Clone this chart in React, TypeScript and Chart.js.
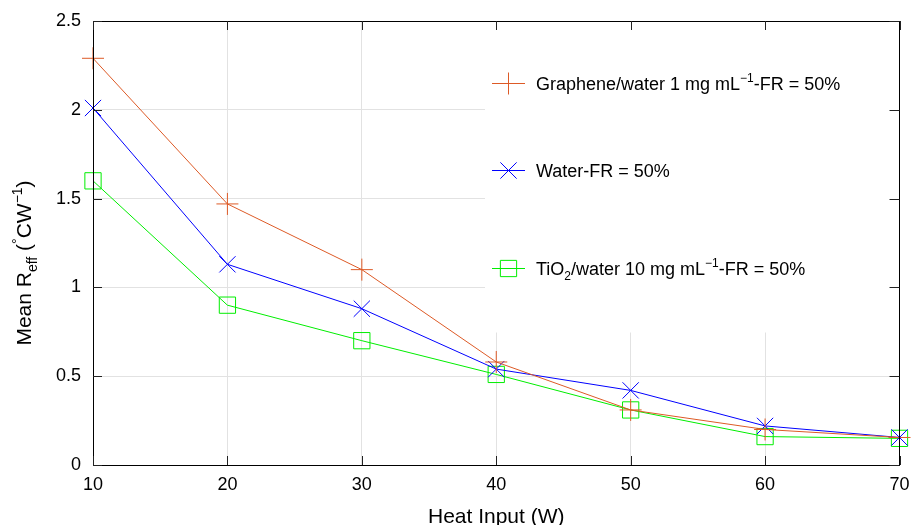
import React, { useEffect, useRef } from 'react';
import { Chart, registerables } from 'chart.js';

Chart.register(...registerables);

// ---- data ----
const heatInput = [10, 20, 30, 40, 50, 60, 70];
const grapheneR = [2.29, 1.47, 1.1, 0.58, 0.31, 0.2, 0.155];
const waterR = [2.01, 1.13, 0.88, 0.54, 0.42, 0.22, 0.155];
const tio2R = [1.6, 0.9, 0.7, 0.51, 0.31, 0.16, 0.15];
const xTickValues = [10, 20, 30, 40, 50, 60, 70];
const yTickValues = [0, 0.5, 1, 1.5, 2, 2.5];
const yTickLabels = ['0', '0.5', '1', '1.5', '2', '2.5'];

// rich text segments: [text, mode] (0 normal, 1 superscript, -1 subscript)
const grapheneLabel: [string, number][] = [['Graphene/water 1 mg mL', 0], ['\u22121', 1], ['-FR = 50%', 0]];
const waterLabel: [string, number][] = [['Water-FR = 50%', 0]];
const tio2Label: [string, number][] = [['TiO', 0], ['2', -1], ['/water 10 mg mL', 0], ['\u22121', 1], ['-FR = 50%', 0]];
const yTitle: [string, number][] = [['Mean R', 0], ['eff', -1], [' (', 0], ['\u00b0', 1], ['CW', 0], ['\u22121', 1], [')', 0]];
const xTitle = 'Heat Input (W)';

const COLORS = { graphene: '#dd5a26', water: '#0000ff', tio2: '#00ee00' };
const FONT = '"Liberation Sans", Arial, Helvetica, sans-serif';

function segFont(size: number, mode: number) {
  return `${mode === 0 ? size : Math.round(size * 0.68)}px ${FONT}`;
}

function richWidth(ctx: CanvasRenderingContext2D, segs: [string, number][], size: number) {
  let w = 0;
  for (const [t, m] of segs) {
    ctx.font = segFont(size, m);
    w += ctx.measureText(t).width;
  }
  return w;
}

function drawRich(ctx: CanvasRenderingContext2D, segs: [string, number][], x: number, y: number, size: number, center: boolean) {
  let cx = center ? x - richWidth(ctx, segs, size) / 2 : x;
  ctx.textBaseline = 'alphabetic';
  ctx.textAlign = 'left';
  for (const [t, m] of segs) {
    ctx.font = segFont(size, m);
    const dy = m === 1 ? -size * 0.42 : m === -1 ? size * 0.28 : 0;
    ctx.fillText(t, cx, y + dy);
    cx += ctx.measureText(t).width;
  }
}

function drawMarker(ctx: CanvasRenderingContext2D, style: string, x: number, y: number, r: number, color: string) {
  ctx.save();
  ctx.strokeStyle = color;
  ctx.lineWidth = 1;
  ctx.beginPath();
  if (style === 'cross') {
    ctx.moveTo(x - r, y); ctx.lineTo(x + r, y);
    ctx.moveTo(x, y - r); ctx.lineTo(x, y + r);
  } else if (style === 'crossRot') {
    const d = r * Math.SQRT1_2;
    ctx.moveTo(x - d, y - d); ctx.lineTo(x + d, y + d);
    ctx.moveTo(x - d, y + d); ctx.lineTo(x + d, y - d);
  } else {
    const d = r * Math.SQRT1_2;
    ctx.rect(x - d, y - d, 2 * d, 2 * d);
  }
  ctx.stroke();
  ctx.restore();
}

const legendItems = [
  { label: grapheneLabel, color: COLORS.graphene, style: 'cross', r: 11, y: 83 },
  { label: waterLabel, color: COLORS.water, style: 'crossRot', r: 11.5, y: 170 },
  { label: tio2Label, color: COLORS.tio2, style: 'rect', r: 11.5, y: 268 },
];

const decorPlugin = {
  id: 'decor',
  beforeDatasetsDraw(chart: any) {
    const { ctx, chartArea } = chart;
    ctx.save();
    ctx.fillStyle = '#ffffff';
    ctx.fillRect(485, chartArea.top + 0.5, chartArea.right - 485 - 0.5, 332 - chartArea.top);
    ctx.restore();
  },
  afterDraw(chart: any) {
    const { ctx, chartArea, scales } = chart;
    const { left, right, top, bottom } = chartArea;
    ctx.save();
    ctx.strokeStyle = '#000';
    ctx.lineWidth = 1;
    ctx.strokeRect(Math.round(left) + 0.5, Math.round(top) + 0.5, Math.round(right - left) - 1, Math.round(bottom - top));
    ctx.strokeStyle = '#222';
    ctx.beginPath();
    for (const v of xTickValues) {
      const px = Math.round(scales.x.getPixelForValue(v)) + 0.5;
      ctx.moveTo(px, bottom); ctx.lineTo(px, bottom - 9);
      ctx.moveTo(px, top); ctx.lineTo(px, top + 9);
    }
    for (const v of yTickValues) {
      const py = Math.round(scales.y.getPixelForValue(v)) + 0.5;
      ctx.moveTo(left, py); ctx.lineTo(left + 9, py);
      ctx.moveTo(right, py); ctx.lineTo(right - 10, py);
    }
    ctx.stroke();

    for (const it of legendItems) {
      ctx.strokeStyle = it.color;
      ctx.lineWidth = 1;
      ctx.beginPath();
      ctx.moveTo(492, it.y + 0.5);
      ctx.lineTo(525, it.y + 0.5);
      ctx.stroke();
      drawMarker(ctx, it.style, 508.5, it.y + 0.5, it.r, it.color);
      ctx.fillStyle = '#000';
      drawRich(ctx, it.label, 536, it.y + 6.5, 18, false);
    }

    ctx.save();
    ctx.translate(31, 263);
    ctx.rotate(-Math.PI / 2);
    ctx.fillStyle = '#000';
    drawRich(ctx, yTitle, 0, 0, 21, true);
    ctx.restore();

    ctx.fillStyle = '#000';
    ctx.font = `21px ${FONT}`;
    ctx.textAlign = 'center';
    ctx.textBaseline = 'alphabetic';
    ctx.fillText(xTitle, (left + right) / 2, 523);
    ctx.restore();
  },
};

function makeSeries(ys: number[]) {
  return heatInput.map((x, i) => ({ x, y: ys[i] }));
}

export default function App() {
  const ref = useRef<HTMLCanvasElement | null>(null);
  useEffect(() => {
    if (!ref.current) return;
    const gridColor = (c: any) => {
      const v = c.tick?.value;
      const s = c.scale;
      if (v === s.min || v === s.max) return 'rgba(0,0,0,0)';
      return '#e2e2e2';
    };
    const base = { borderWidth: 1, pointBorderWidth: 1, fill: false, tension: 0, clip: false as any };
    const chart = new Chart(ref.current, {
      type: 'line',
      data: {
        datasets: [
          {
            ...base,
            label: 'Graphene',
            data: makeSeries(grapheneR),
            borderColor: COLORS.graphene,
            backgroundColor: COLORS.graphene,
            pointStyle: 'cross',
            pointRadius: 11,
            pointBorderColor: COLORS.graphene,
          },
          {
            ...base,
            label: 'Water',
            data: makeSeries(waterR),
            borderColor: COLORS.water,
            backgroundColor: COLORS.water,
            pointStyle: 'crossRot',
            pointRadius: 11.5,
            pointBorderColor: COLORS.water,
          },
          {
            ...base,
            label: 'TiO2',
            data: makeSeries(tio2R),
            borderColor: COLORS.tio2,
            backgroundColor: 'rgba(0,0,0,0)',
            pointStyle: 'rect',
            pointRadius: 11.5,
            pointBorderColor: COLORS.tio2,
            pointBackgroundColor: 'rgba(0,0,0,0)',
          },
        ],
      },
      options: {
        animation: false,
        responsive: true,
        maintainAspectRatio: false,
        layout: { padding: { top: 21, right: 10, left: 0, bottom: 0 } },
        plugins: { legend: { display: false }, tooltip: { enabled: false } },
        scales: {
          x: {
            type: 'linear',
            min: 10,
            max: 70,
            afterFit: (s: any) => { s.height = 60; s.paddingLeft = 0; s.paddingRight = 0; },
            afterBuildTicks: (s: any) => { s.ticks = xTickValues.map((v) => ({ value: v })); },
            ticks: { padding: 9, color: '#000', font: { size: 18, family: FONT }, maxRotation: 0 },
            grid: { color: gridColor, drawTicks: false, lineWidth: 1 },
            border: { display: false },
          },
          y: {
            type: 'linear',
            min: 0,
            max: 2.5,
            afterFit: (s: any) => { s.width = 93; s.paddingTop = 0; s.paddingBottom = 0; },
            afterBuildTicks: (s: any) => { s.ticks = yTickValues.map((v) => ({ value: v })); },
            ticks: {
              padding: 12,
              color: '#000',
              font: { size: 18, family: FONT },
              callback: (v: any) => {
                const i = yTickValues.indexOf(Number(v));
                return i >= 0 ? yTickLabels[i] : '';
              },
            },
            grid: { color: gridColor, drawTicks: false, lineWidth: 1 },
            border: { display: false },
          },
        },
      },
      plugins: [decorPlugin],
    });
    return () => chart.destroy();
  }, []);
  return (
    <div style={{ position: 'fixed', left: 0, top: 0, width: 912, height: 525, background: '#fff' }}>
      <canvas ref={ref} />
    </div>
  );
}
